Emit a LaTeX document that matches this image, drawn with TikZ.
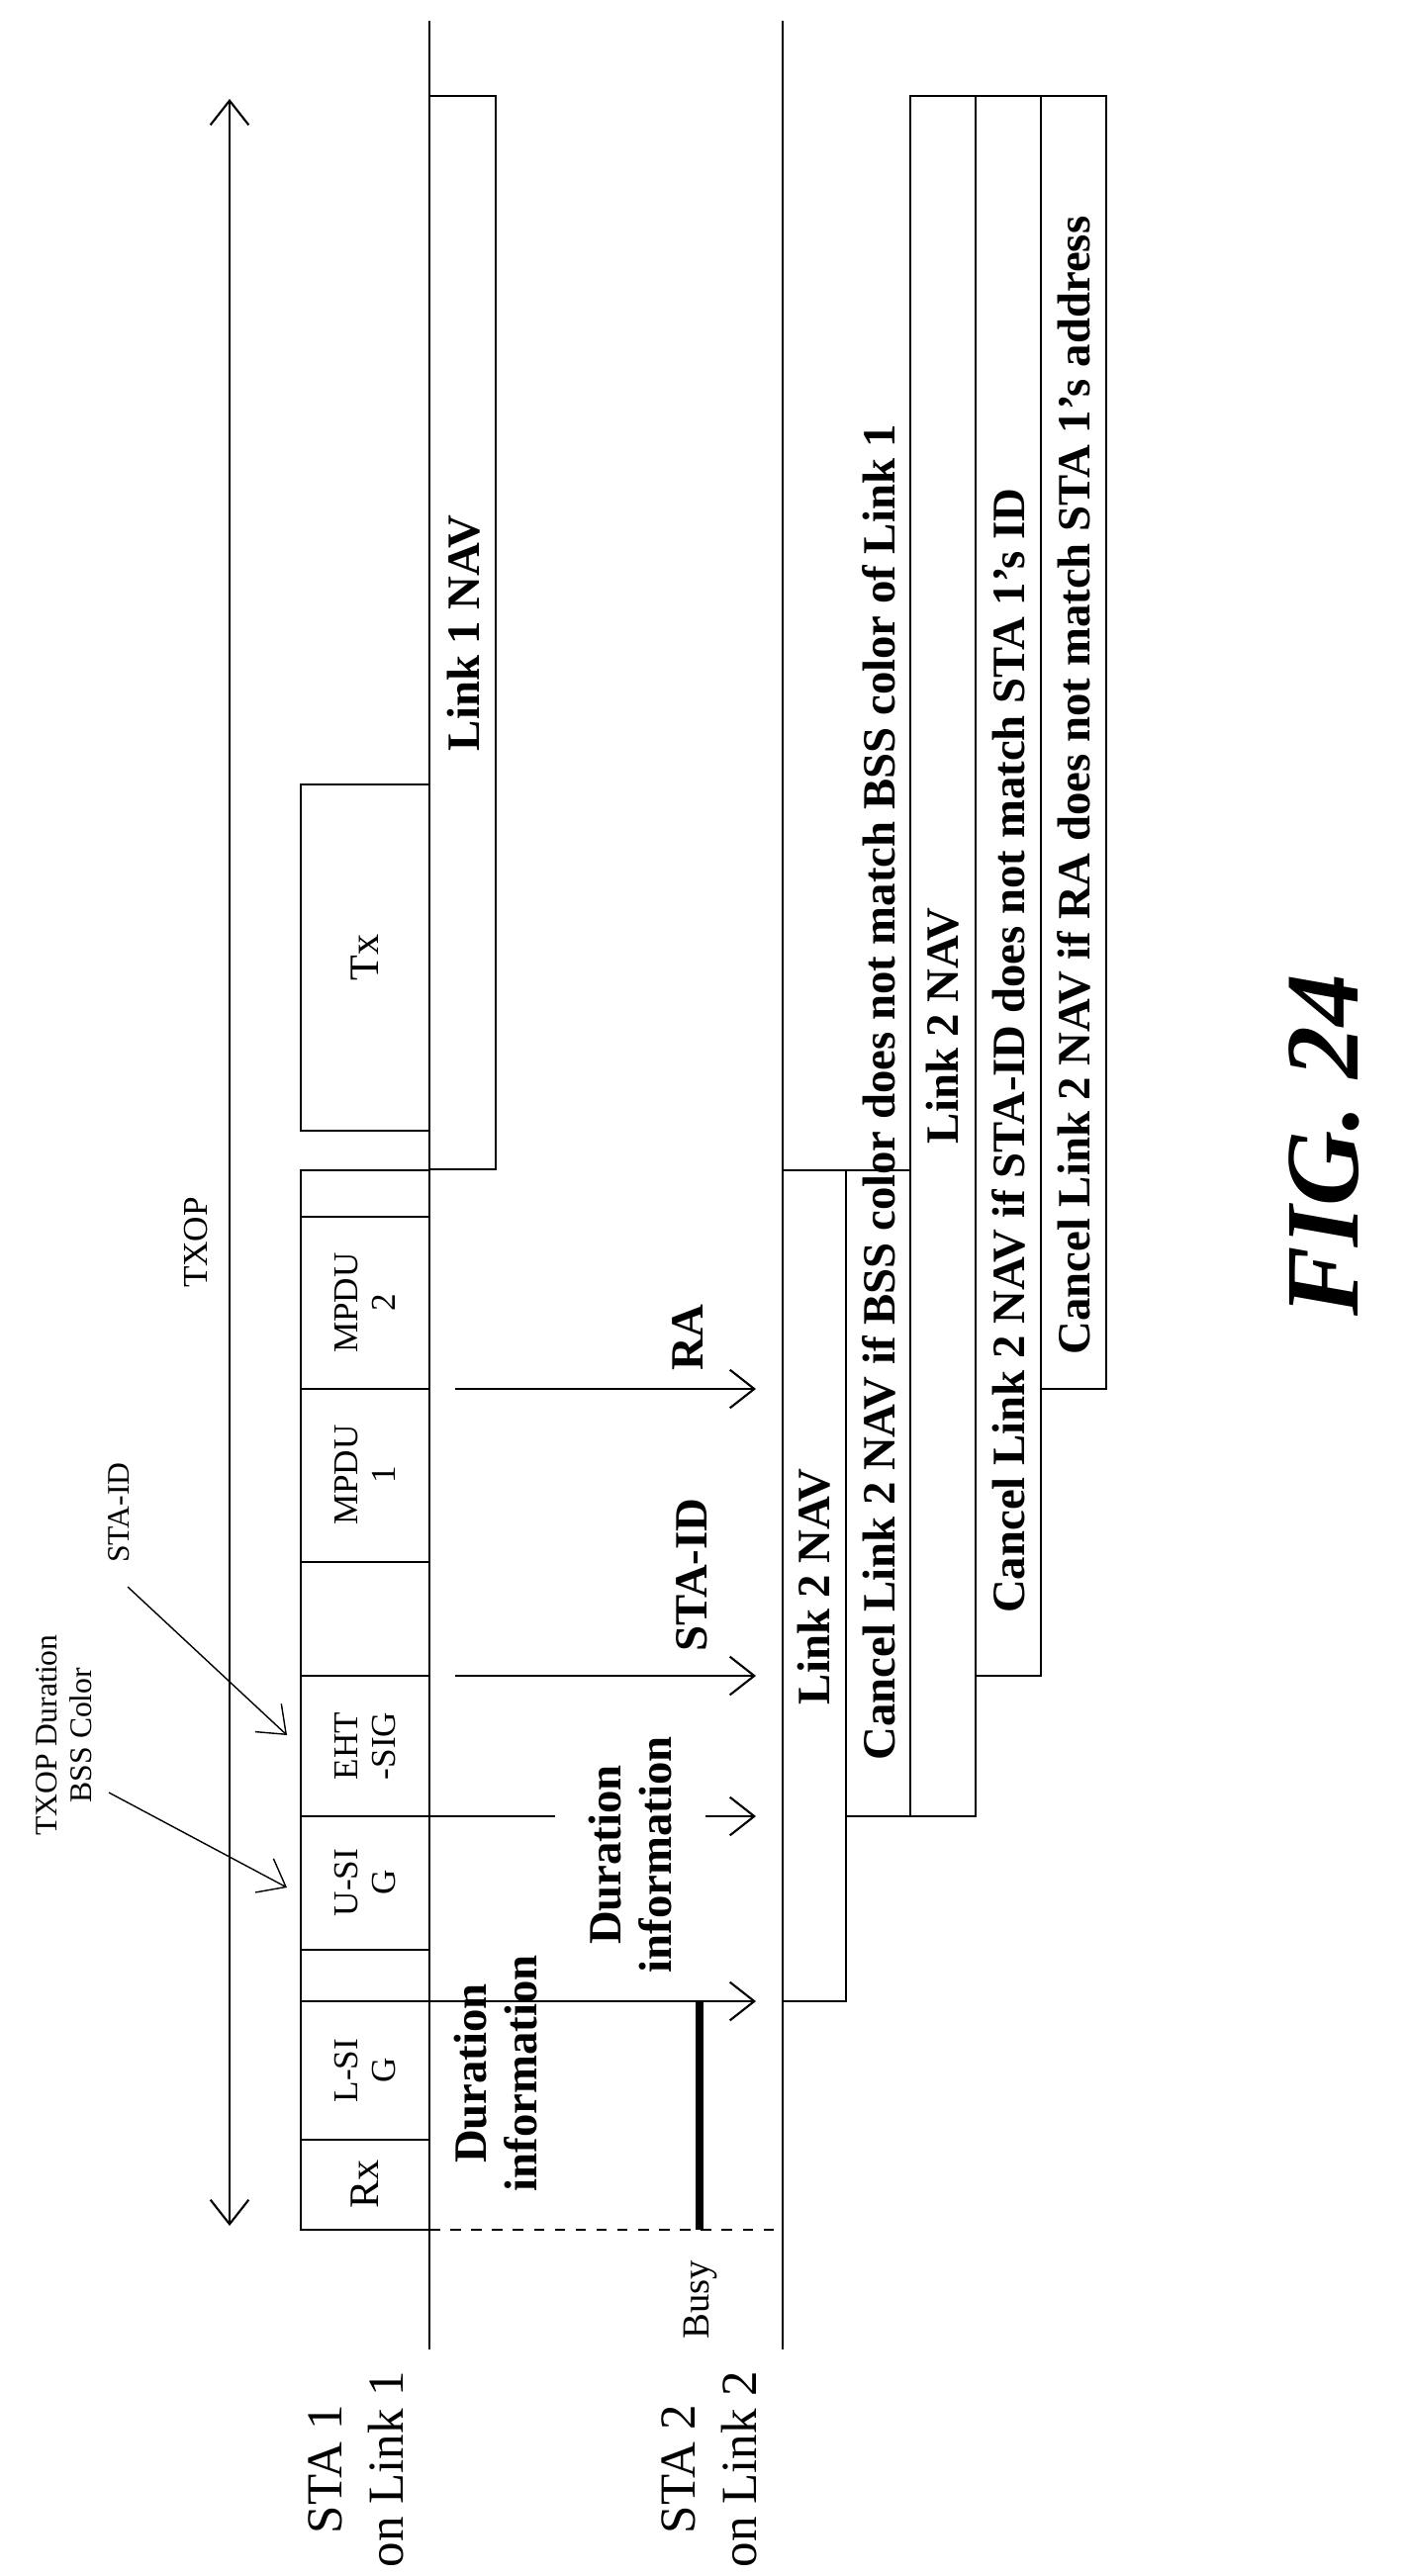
\documentclass[tikz,border=0pt]{standalone}
\usepackage{fontspec}
\setmainfont{Liberation Serif}
\usetikzlibrary{arrows.meta, positioning}

\begin{document}
\begin{tikzpicture}[x=0.01cm, y=-0.01cm, >={Straight Barb[length=7pt,width=11pt]}, line width=0.6pt,
    lbl/.style={rotate=90, font=\fontsize{10}{11}\selectfont, align=center, inner sep=0pt},
    bld/.style={rotate=90, font=\fontsize{13.3}{14.5}\selectfont\bfseries, align=center, inner sep=0pt}]
    \useasboundingbox (0,0) rectangle (1421,2604);

    % Link lines
    \coordinate (l1t) at (434,21);  \coordinate (l1b) at (434,2375);
    \coordinate (l2t) at (791,21);  \coordinate (l2b) at (791,2375);
    \draw (l1t) -- (l1b);
    \draw (l2t) -- (l2b);
    \node[lbl, font=\fontsize{14.5}{17.5}\selectfont] (sta1) at (360,2496) {STA 1\\on Link 1};
    \node[lbl, font=\fontsize{14.5}{17.5}\selectfont] (sta2) at (717,2496) {STA 2\\on Link 2};

    % TXOP arrow
    \coordinate (txa) at (232,2250); \coordinate (txb) at (232,100);
    \draw[<->] (txa) -- (txb);
    \node[lbl] (txop) at (198,1256) {TXOP};

    % STA 1 frame
    \draw (304,2254) rectangle (434,1183);
    \foreach \y in {1230,1404,1579,1694,1836,1971,2023,2163} \draw (304,\y) -- (434,\y);
    \node[lbl, font=\fontsize{12}{13}\selectfont] (rx) at (369,2208) {Rx};
    \node[lbl] (lsig) at (369,2093) {L-SI\\G};
    \node[lbl] (usig) at (369,1903) {U-SI\\G};
    \node[lbl] (ehtsig) at (369,1765) {EHT\\-SIG};
    \node[lbl] (mpdu1) at (369,1491) {MPDU\\1};
    \node[lbl] (mpdu2) at (369,1317) {MPDU\\2};
    \draw (304,1143) rectangle (434,793);
    \node[lbl, font=\fontsize{12}{13}\selectfont] (tx) at (369,968) {Tx};

    % Link 1 NAV
    \draw (434,1182) rectangle (501,97);
    \node[bld] (nav1) at (469,640) {Link 1 NAV};

    % field annotations
    \node[lbl, font=\fontsize{9}{10}\selectfont] (txopdur) at (65,1754) {TXOP Duration\\BSS Color};
    \node[lbl, font=\fontsize{9}{10}\selectfont] (staidlbl) at (120,1529) {STA-ID};
    \coordinate (a1) at (110,1812); \coordinate (a1e) at (290,1908);
    \coordinate (a2) at (129,1604); \coordinate (a2e) at (290,1754);
    \draw[->, line width=0.4pt] (a1) -- (a1e);
    \draw[->, line width=0.4pt] (a2) -- (a2e);

    % dashed busy boundary and duration information
    \draw[dashed] (434,2254) -- (791,2254);
    \coordinate (bz) at (707,2254); \coordinate (bt) at (707,2023);
    \draw[line width=2pt] (bz) -- (bt);
    \coordinate (d1s) at (434,2023); \coordinate (d1e) at (764,2023);
    \draw[->] (d1s) -- (d1e);
    \node[bld] (dur1) at (501,2096) {Duration\\information};
    \node[bld] (dur2) at (637,1875) {Duration\\information};
    \draw (434,1836) -- (561,1836);
    \coordinate (d2s) at (713,1836); \coordinate (d2e) at (764,1836);
    \draw[->] (d2s) -- (d2e);
    \coordinate (s1) at (460,1694); \coordinate (s1e) at (764,1694);
    \draw[->] (s1) -- (s1e);
    \node[bld] (staid) at (699,1592) {STA-ID};
    \coordinate (r1) at (460,1404); \coordinate (r1e) at (764,1404);
    \draw[->] (r1) -- (r1e);
    \node[bld] (ra) at (695,1352) {RA};
    \node[lbl, font=\fontsize{11}{12}\selectfont] (busy) at (708,2325) {Busy};

    % Link 2 NAV boxes
    \draw (791,2023) rectangle (855,1183);
    \draw (855,1836) rectangle (920,1183);
    \draw (920,1836) rectangle (986,97);
    \draw (986,1694) rectangle (1052,97);
    \draw (1052,1404) rectangle (1118,97);
    \node[bld] (nav2a) at (823,1604) {Link 2 NAV};
    \node[bld] (c1) at (888,1104) {Cancel Link 2 NAV if BSS color does not match BSS color of Link 1};
    \node[bld] (nav2b) at (953,1037) {Link 2 NAV};
    \node[bld] (c2) at (1019,1062) {Cancel Link 2 NAV if STA-ID does not match STA 1’s ID};
    \node[bld] (c3) at (1085,794) {Cancel Link 2 NAV if RA does not match STA 1’s address};

    \node[rotate=90, font=\fontsize{30}{32}\selectfont\bfseries\itshape] (fig) at (1338,1158) {FIG. 24};
\end{tikzpicture}
\end{document}
